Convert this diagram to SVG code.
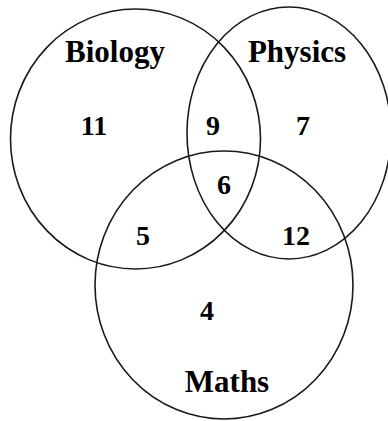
<svg xmlns="http://www.w3.org/2000/svg" width="388" height="421" viewBox="0 0 388 421">
<style>
.c{fill:none;stroke:#1a1a1a;stroke-width:1.6}
.t{font-family:"Liberation Serif","Times New Roman",serif;font-weight:bold;fill:#000;text-anchor:middle}
.lab{font-size:31px}
.num{font-size:28px}
</style>
<rect width="388" height="421" fill="#fff"/>
<g id="biology">
<ellipse class="c" cx="135.5" cy="139" rx="125" ry="130"/>
<text class="t lab" x="115" y="62">Biology</text>
</g>
<g id="physics">
<ellipse class="c" cx="289" cy="133" rx="102" ry="126"/>
<text class="t lab" x="297" y="62">Physics</text>
</g>
<g id="maths">
<ellipse class="c" cx="224" cy="285" rx="129" ry="134"/>
<text class="t lab" x="227" y="392">Maths</text>
</g>
<g id="counts">
<text class="t num" x="94" y="135">11</text>
<text class="t num" x="213" y="135">9</text>
<text class="t num" x="303" y="135">7</text>
<text class="t num" x="224" y="194">6</text>
<text class="t num" x="143" y="245">5</text>
<text class="t num" x="296" y="245">12</text>
<text class="t num" x="207" y="320">4</text>
</g>
<g id="connectors"></g>
</svg>
